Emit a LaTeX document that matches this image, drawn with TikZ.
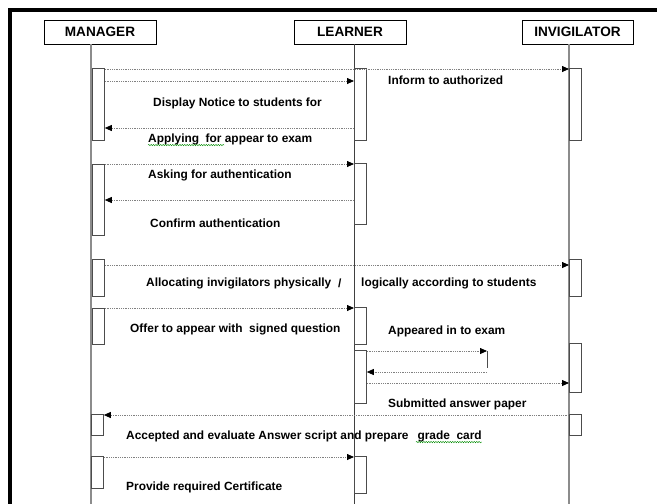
\documentclass[tikz,border=0pt]{standalone}
\usepackage{fontspec}
\setmainfont{Liberation Sans}
\usetikzlibrary{arrows.meta,decorations.pathmorphing}
\begin{document}
\begin{tikzpicture}[x=1pt,y=-1pt,
 head/.style={draw=black, line width=0.8pt, minimum width=112pt, minimum height=24pt, font=\fontsize{13.6}{15}\selectfont\bfseries, inner sep=0pt},
 lifeg/.style={draw=black!45, line width=1.4pt},
 lifek/.style={draw=black!75, line width=0.8pt},
 act/.style={draw=black!70, fill=white, line width=0.8pt, minimum width=12pt, inner sep=0pt, anchor=north west},
 msg/.style={draw=black!50, densely dotted, line width=0.8pt, -{Triangle[length=7pt,width=6pt,color=black]}},
 lbl/.style={font=\fontsize{11.9}{14}\selectfont\bfseries, anchor=west, inner sep=0pt},
 squig/.style={draw=green!55!black, line width=0.4pt, decorate, decoration={snake,amplitude=0.7pt,segment length=2.4pt}}
]
\useasboundingbox (0,0) rectangle (657,504);
\draw[line width=4pt, line join=miter] (10,504) -- (10,10) -- (657,10);

% headers
\node[head] (mgr) at (100,32) {MANAGER};
\node[head] (lrn) at (350,32) {LEARNER};
\node[head, minimum width=111pt] (inv) at (577.5,32) {INVIGILATOR};

% lifelines
\coordinate (M) at (91,504);
\coordinate (L) at (354,504);
\coordinate (I) at (569,504);
\draw[lifeg] (mgr.south -| M) -- (M);
\draw[lifek] (lrn.south -| L) -- (L);
\draw[lifeg] (inv.south -| I) -- (I);

% activations
\node[act, minimum height=72pt] (ma1) at (92,68) {};
\node[act, minimum height=71pt] (ma2) at (92,164) {};
\node[act, minimum height=37pt] (ma3) at (92,259) {};
\node[act, minimum height=36pt] (ma4) at (92,308) {};
\node[act, minimum height=21pt] (ma5) at (91,414) {};
\node[act, minimum height=32pt] (ma6) at (91,456) {};

\node[act, minimum height=72pt] (la1) at (354,68) {};
\node[act, minimum height=61pt] (la2) at (354,163) {};
\node[act, minimum height=37pt] (la3) at (354,307) {};
\node[act, minimum height=53pt] (la4) at (354,350) {};
\node[act, minimum height=37pt] (la5) at (354,456) {};

\node[act, minimum height=72pt] (ia1) at (569,68) {};
\node[act, minimum height=37pt] (ia2) at (569,259) {};
\node[act, minimum height=49pt] (ia3) at (569,343) {};
\node[act, minimum height=21pt] (ia4) at (569,414) {};

% message levels
\coordinate (y1) at (0,69);
\coordinate (y2) at (0,81);
\coordinate (y3) at (0,128);
\coordinate (y4) at (0,164);
\coordinate (y5) at (0,200);
\coordinate (y6) at (0,265);
\coordinate (y7) at (0,308);
\coordinate (y8) at (0,351);
\coordinate (y8b) at (0,368);
\coordinate (y8c) at (0,372);
\coordinate (y9) at (0,383);
\coordinate (y10) at (0,415);
\coordinate (y11) at (0,457);
\coordinate (selfx) at (487,0);

% messages
\draw[msg] (y1 -| ma1.east) -- (y1 -| ia1.west);
\draw[msg] (y2 -| ma1.east) -- (y2 -| la1.west);
\draw[msg] (y3 -| la1.west) -- (y3 -| ma1.east);
\draw[msg] (y4 -| ma2.east) -- (y4 -| la2.west);
\draw[msg] (y5 -| la2.west) -- (y5 -| ma2.east);
\draw[msg] (y6 -| ma3.east) -- (y6 -| ia2.west);
\draw[msg] (y7 -| ma4.east) -- (y7 -| la3.west);
\draw[msg] (y8 -| la4.east) -- (y8 -| selfx);
\draw[draw=black!70, line width=0.7pt] (y8 -| selfx) -- (y8b -| selfx);
\draw[msg] (y8c -| selfx) -- (y8c -| la4.east);
\draw[msg] (y9 -| la4.east) -- (y9 -| ia3.west);
\draw[msg] (y10 -| ia4.west) -- (y10 -| ma5.east);
\draw[msg] (y11 -| ma6.east) -- (y11 -| la5.west);

% labels
\node[lbl] (t1) at (388,80) {Inform to authorized};
\node[lbl] (t2) at (153,103) {Display Notice to students for};
\node[lbl] (t3) at (148,139) {Applying\ \ for appear to exam};
\node[lbl] (t4) at (148,175) {Asking for authentication};
\node[lbl] (t5) at (150,223) {Confirm authentication};
\node[lbl] (t6) at (146,283) {Allocating invigilators physically};
\node[lbl] (t6s) at (338,283) {/};
\node[lbl] (t6b) at (361,283) {logically according to students};
\node[lbl] (t7) at (130,329) {Offer to appear with\ \ signed question};
\node[lbl] (t8) at (388,331) {Appeared in to exam};
\node[lbl] (t9) at (388,404) {Submitted answer paper};
\node[lbl] (t10) at (126,436) {Accepted and evaluate Answer script and prepare\hspace{9pt}grade\ \ card};
\node[lbl] (t11) at (126,487) {Provide required Certificate};

% spell-check squiggles
\draw[squig] ([yshift=-3pt]t3.base west) -- ++(76,0);
\draw[squig] ([yshift=-3pt,xshift=-66pt]t10.base east) -- ++(66,0);
\end{tikzpicture}
\end{document}
